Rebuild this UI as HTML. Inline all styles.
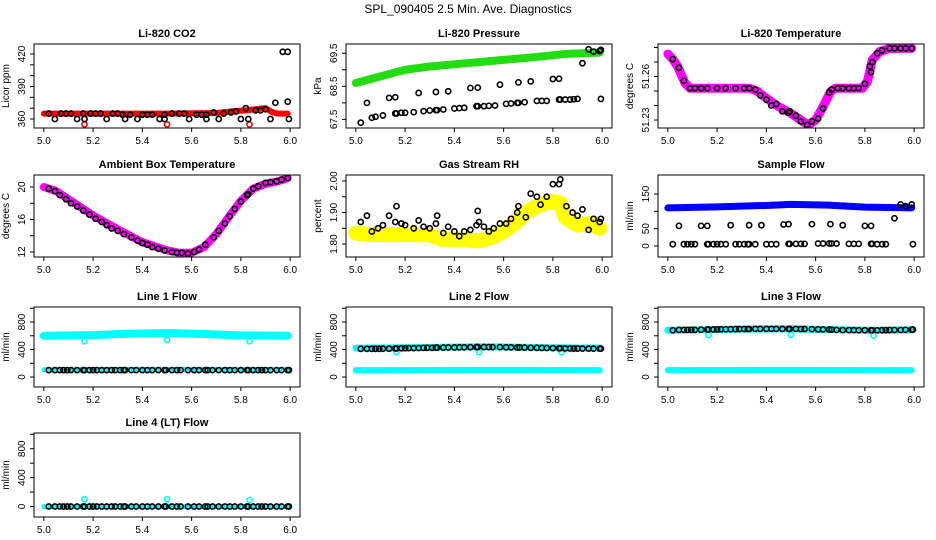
<!DOCTYPE html>
<html><head><meta charset="utf-8"><style>
html,body{margin:0;padding:0;background:#fff;}
svg{display:block;font-family:"Liberation Sans",sans-serif;}
</style></head><body>
<svg id="chart" width="936" height="540" viewBox="0 0 936 540">
<text x="468" y="13" text-anchor="middle" font-size="12">SPL_090405  2.5 Min. Ave. Diagnostics</text>
</svg>
<script>
// ---- data ----
const xTicks=[5.0,5.2,5.4,5.6,5.8,6.0];
const gridX=[5.02,5.045,5.065,5.08,5.095,5.11,5.135,5.16,5.165,5.185,5.2,5.215,5.235,5.255,5.275,5.29,5.31,5.325,5.33,5.355,5.375,5.4,5.42,5.44,5.465,5.49,5.495,5.52,5.54,5.555,5.585,5.61,5.63,5.655,5.665,5.685,5.71,5.735,5.755,5.775,5.8,5.825,5.83,5.85,5.87,5.885,5.9,5.92,5.945,5.965,5.99,5.995];

const co2BandX=[5.0,5.1,5.3,5.5,5.7,5.76,5.82,5.9,5.93,5.95,5.99];
const co2BandY=[365,365,365,365,365.5,367,368,370,366,365,365];
const co2OutX=[5.165,5.5,5.835];
const co2OutY=[355,355,355];
const co2BlkX=[5.02,5.07,5.09,5.11,5.16,5.19,5.21,5.23,5.28,5.3,5.32,5.35,5.4,5.42,5.44,5.49,5.52,5.55,5.57,5.62,5.64,5.66,5.69,5.73,5.76,5.78,5.82,5.86,5.88,5.9,5.94,5.99,5.97,5.99,5.045,5.135,5.165,5.255,5.33,5.38,5.47,5.49,5.59,5.66,5.71,5.8,5.83,5.92,5.995];
const co2BlkY=[365,365,365,365,365,365,365,365,365,365,364,364,364,364,364,364,365,365,365,364,364,364,366,365,366,367,370,368,368,369,375,376,422,422,360,360,360,360,360,360,360,360,360,360,360,360,360,360,360];

const presBandX=[5.0,5.1,5.2,5.3,5.45,5.6,5.75,5.85,5.99];
const presBandY=[68.6,68.8,69.0,69.1,69.2,69.3,69.4,69.48,69.52];
const presBlkX=[5.045,5.135,5.16,5.255,5.325,5.375,5.465,5.495,5.585,5.66,5.71,5.8,5.825,5.92,5.945,5.965,5.99,5.995,
 5.02,5.065,5.08,5.11,5.16,5.165,5.185,5.2,5.235,5.275,5.3,5.325,5.33,5.355,5.4,5.42,5.44,5.49,5.495,5.52,5.54,5.565,5.61,5.63,5.655,5.66,5.685,5.735,5.755,5.775,5.825,5.83,5.85,5.87,5.885,5.9,5.995];
const presBlkY=[68.0,68.15,68.17,68.3,68.33,68.35,68.45,68.46,68.55,68.62,68.65,68.72,68.73,69.2,69.62,69.55,69.57,69.6,
 67.4,67.55,67.58,67.62,67.68,67.68,67.7,67.7,67.72,67.75,67.77,67.78,67.78,67.8,67.83,67.84,67.85,67.9,67.9,67.9,67.91,67.92,67.97,67.98,68.0,68.0,68.02,68.06,68.06,68.06,68.1,68.1,68.1,68.1,68.11,68.12,68.12];

const tempBandX=[5.0,5.02,5.04,5.07,5.09,5.2,5.33,5.36,5.4,5.45,5.5,5.55,5.57,5.6,5.63,5.66,5.68,5.79,5.81,5.83,5.86,5.9,5.99];
const tempBandY=[51.2755,51.272,51.2668,51.2553,51.2519,51.2519,51.2519,51.2502,51.245,51.2392,51.2346,51.2288,51.2266,51.23,51.2392,51.2495,51.2519,51.2519,51.2564,51.2714,51.2772,51.2794,51.2794];
const tempBlkX=[5.02,5.045,5.065,5.09,5.11,5.135,5.16,5.2,5.235,5.275,5.31,5.33,5.355,5.375,5.4,5.42,5.44,5.465,5.49,5.495,5.52,5.54,5.565,5.585,5.61,5.63,5.655,5.665,5.69,5.71,5.735,5.755,5.775,5.8,5.82,5.825,5.83,5.85,5.87,5.9,5.92,5.945,5.965,5.99];
const tempBlkY=[51.272,51.266,51.257,51.2519,51.2519,51.2519,51.2519,51.2519,51.2519,51.2519,51.2519,51.2519,51.251,51.247,51.244,51.240,51.241,51.236,51.235,51.236,51.233,51.229,51.2266,51.229,51.231,51.238,51.249,51.251,51.2519,51.2519,51.2519,51.2519,51.2519,51.255,51.267,51.263,51.270,51.276,51.278,51.2794,51.2794,51.2794,51.2794,51.2794];

const ambBandX=[5.0,5.05,5.1,5.2,5.3,5.4,5.5,5.55,5.6,5.65,5.7,5.75,5.8,5.85,5.9,5.95,5.99];
const ambBandY=[20.0,19.5,18.5,16.5,14.8,13.2,12.2,11.9,11.9,12.6,14.2,16.3,18.3,19.8,20.4,20.7,21.1];
const ambBlkX=[5.02,5.045,5.065,5.09,5.11,5.135,5.16,5.185,5.21,5.235,5.255,5.275,5.3,5.325,5.355,5.38,5.4,5.42,5.44,5.465,5.49,5.52,5.54,5.56,5.585,5.61,5.63,5.655,5.69,5.71,5.735,5.755,5.775,5.8,5.825,5.83,5.85,5.87,5.9,5.92,5.945,5.965,5.99];
const ambBlkY=[19.8,19.5,19.0,18.5,18.0,17.6,17.1,16.6,16.1,15.7,15.3,14.9,14.6,14.2,13.8,13.4,13.1,12.9,12.6,12.4,12.2,12.0,11.9,11.9,11.8,12.0,12.3,12.9,13.8,14.6,15.5,16.4,17.3,18.2,19.0,19.1,19.8,20.1,20.5,20.6,20.7,20.9,21.1];

const rhBandX=[5.0,5.05,5.1,5.2,5.3,5.35,5.4,5.5,5.55,5.6,5.65,5.7,5.75,5.8,5.83,5.85,5.9,5.95,5.99];
const rhBandY=[1.835,1.83,1.83,1.83,1.83,1.815,1.815,1.81,1.82,1.84,1.87,1.905,1.925,1.935,1.93,1.885,1.86,1.865,1.85];
const rhBlkX=[5.02,5.045,5.065,5.09,5.11,5.135,5.16,5.165,5.185,5.2,5.235,5.255,5.275,5.3,5.325,5.33,5.355,5.375,5.4,5.42,5.44,5.465,5.49,5.495,5.5,5.52,5.54,5.56,5.585,5.61,5.63,5.655,5.66,5.69,5.71,5.735,5.75,5.775,5.8,5.825,5.83,5.855,5.88,5.9,5.92,5.945,5.965,5.99,5.995];
const rhBlkY=[1.87,1.89,1.84,1.85,1.86,1.89,1.87,1.92,1.865,1.86,1.85,1.875,1.855,1.85,1.865,1.89,1.835,1.855,1.84,1.825,1.84,1.845,1.86,1.905,1.87,1.855,1.84,1.85,1.865,1.865,1.88,1.9,1.92,1.885,1.96,1.95,1.925,1.95,1.99,1.99,2.005,1.92,1.9,1.89,1.91,1.845,1.88,1.87,1.88];

const sfBandX=[5.0,5.2,5.4,5.5,5.65,5.8,5.99];
const sfBandY=[110,113,117,120,118,112,110];
const sfBlkX=[5.045,5.135,5.16,5.255,5.33,5.38,5.47,5.49,5.585,5.66,5.71,5.8,5.825,5.92,5.945,5.965,5.99,
 5.02,5.065,5.08,5.095,5.11,5.16,5.165,5.185,5.2,5.215,5.235,5.275,5.29,5.31,5.325,5.33,5.355,5.4,5.42,5.44,5.49,5.495,5.52,5.54,5.555,5.61,5.63,5.655,5.665,5.685,5.735,5.755,5.775,5.825,5.83,5.85,5.87,5.885,5.995];
const sfBlkY=[58,58,58,60,60,60,62,63,63,63,60,58,58,80,120,115,120,
 5,5,5,5,5,5,5,5,5,5,5,5,5,5,5,5,5,5,5,5,6,6,6,6,6,7,7,7,7,7,6,6,6,6,6,5,5,5,5];

const l1HiX=[5.0,5.2,5.35,5.5,5.65,5.8,5.99];
const l1HiY=[600,610,630,640,625,605,600];
const l1LoX=[5.0,5.5,5.99];
const l1LoY=[105,110,105];
const l1BlkY=[100,100,100,100,100,100,100,100,100,100,100,100,100,100,100,100,100,100,100,100,100,100,100,100,100,100,100,100,100,100,100,100,100,100,100,100,100,100,100,100,100,100,100,100,100,100,100,100,100,100,100,100];
const l1OutX=[5.165,5.5,5.835];
const l1OutY=[520,540,520];

const l2HiX=[5.0,5.2,5.4,5.5,5.65,5.8,5.99];
const l2HiY=[420,425,435,440,435,425,420];
const l2LoX=[5.0,5.5,5.99];
const l2LoY=[100,102,100];
const l2BlkY=[410,410,410,410,410,412,412,415,415,418,418,420,420,422,424,425,425,427,427,428,430,430,432,432,434,436,436,436,435,435,434,432,432,430,430,428,425,425,423,422,420,418,418,416,415,414,414,414,413,413,413,413];
const l2OutY=[360,360,360];

const l3HiX=[5.0,5.2,5.4,5.5,5.65,5.8,5.99];
const l3HiY=[680,690,700,700,690,680,685];
const l3LoX=[5.0,5.5,5.99];
const l3LoY=[100,102,100];
const l3BlkY=[680,685,685,685,685,685,688,690,690,692,692,694,695,696,697,698,698,698,698,700,700,700,700,700,700,700,700,700,698,698,696,694,692,690,688,685,683,682,682,681,681,680,680,680,681,682,683,684,684,686,688,690];
const l3OutY=[610,615,600];

const l4BandX=[5.0,5.5,5.99];
const l4BandY=[0,0,0];
const l4BlkY=[0,0,0,0,0,0,0,0,0,0,0,0,0,0,0,0,0,0,0,0,0,0,0,0,0,0,0,0,0,0,0,0,0,0,0,0,0,0,0,0,0,0,0,0,0,0,0,0,0,0,0,0];
const l4OutY=[100,100,90];

// ---- layout ----
const NS='http://www.w3.org/2000/svg';
const svg=document.getElementById('chart');
function mk(tag,attrs,parent){const e=document.createElementNS(NS,tag);for(const k in attrs)e.setAttribute(k,attrs[k]);(parent||svg).appendChild(e);return e;}
const XD=[4.96,6.04];

function panel(o){
  const g=mk('g',{});
  
  
  const L=o.x,T=o.y,W=266,H=o.h;
  const sx=v=>L+(v-XD[0])/(XD[1]-XD[0])*W;
  const sy=v=>T+H-(v-o.yd[0])/(o.yd[1]-o.yd[0])*H;
  const t=mk('text',{x:L+W/2,y:T-7,'text-anchor':'middle','font-size':'11','font-weight':'bold'},g);
  t.textContent=o.title;
  
  
  const xa=mk('g',{},g);
  
  
  mk('line',{x1:sx(xTicks[0]),x2:sx(xTicks[xTicks.length-1]),y1:T+H,y2:T+H,stroke:'#000'},xa);
  xTicks.forEach(v=>{
    mk('line',{x1:sx(v),x2:sx(v),y1:T+H,y2:T+H+4,stroke:'#000'},xa);
    const tl=mk('text',{x:sx(v),y:T+H+16,'text-anchor':'middle','font-size':'10'},xa);
    tl.textContent=v.toFixed(1);
    
    
  });
  const ya=mk('g',{},g);
  
  
  mk('line',{x1:L,x2:L,y1:sy(o.yt[0]),y2:sy(o.yt[o.yt.length-1]),stroke:'#000'},ya);
  o.yt.forEach((v,i)=>{
    mk('line',{x1:L-4,x2:L,y1:sy(v),y2:sy(v),stroke:'#000'},ya);
    if(o.yl[i]){
      const tl=mk('text',{x:L-9,y:sy(v),'text-anchor':'middle','font-size':'10',transform:`rotate(-90 ${L-9} ${sy(v)})`},ya);
      tl.textContent=o.yl[i];
      
      
    }
  });
  const yt=mk('text',{x:L-25,y:T+H/2,'text-anchor':'middle','font-size':'10',transform:`rotate(-90 ${L-25} ${T+H/2})`},g);
  yt.textContent=o.ytitle;
  
  
  const clip='clip-'+o.name;
  const cp=mk('clipPath',{id:clip},g);mk('rect',{x:L,y:T,width:W,height:H},cp);
  const sg=mk('g',{'clip-path':`url(#${clip})`},g);
  (o.bands||[]).forEach(b=>{
    const pts=b.x.map((v,i)=>sx(v)+','+sy(b.y[i])).join(' ');
    const pl=mk('polyline',{points:pts,fill:'none',stroke:b.c,'stroke-width':b.w,'stroke-linejoin':'round','stroke-linecap':'round'},sg);
    
    
  });
  (o.pts||[]).forEach(p=>{
    const pg=mk('g',{},sg);
    
    
    p.x.forEach((v,i)=>{
      const c=mk('circle',{cx:sx(v),cy:sy(p.y[i]),r:2.6,fill:'none',stroke:p.c,'stroke-width':1.6},pg);
      
      
    });
  });
  mk('rect',{x:L,y:T,width:W,height:H,fill:'none',stroke:'#000'},g);
}
const C=[34,346,658];
const flowT=[0,200,400,600,800,1000],flowL=['0','','400','','800',''];
panel({name:'co2',title:'Li-820 CO2',x:C[0],y:44,h:84,yd:[351.7,429.2],yt:[360,370,380,390,400,410,420],yl:['360','','','390','','','420'],ytitle:'Licor ppm',
  bands:[{x:co2BandX,y:co2BandY,c:'#ff0000',w:6,n:'co2-band'}],
  pts:[{x:co2OutX,y:co2OutY,c:'#ff0000',n:'co2-red-outliers'},{x:co2BlkX,y:co2BlkY,c:'#000',n:'co2-black-points'}]});
panel({name:'pressure',title:'Li-820 Pressure',x:C[1],y:44,h:84,yd:[67.24,69.78],yt:[67.5,68,68.5,69,69.5],yl:['67.5','','68.5','','69.5'],ytitle:'kPa',
  bands:[{x:presBandX,y:presBandY,c:'#22dd11',w:8,n:'pressure-band'}],
  pts:[{x:presBlkX,y:presBlkY,c:'#000',n:'pressure-black-points'}]});
panel({name:'licor-temp',title:'Li-820 Temperature',x:C[2],y:44,h:84,yd:[51.2245,51.2824],yt:[51.23,51.24,51.25,51.26,51.27,51.28],yl:['51.23','','','51.26','',''],ytitle:'degrees C',
  bands:[{x:tempBandX,y:tempBandY,c:'#ff00ff',w:9,n:'licor-temp-band'}],
  pts:[{x:tempBlkX,y:tempBlkY,c:'#000',n:'licor-temp-black-points'}]});
panel({name:'ambient',title:'Ambient Box Temperature',x:C[0],y:175,h:82,yd:[11.38,21.48],yt:[12,14,16,18,20],yl:['12','','16','','20'],ytitle:'degrees C',
  bands:[{x:ambBandX,y:ambBandY,c:'#ff00ff',w:8,n:'ambient-band'}],
  pts:[{x:ambBlkX,y:ambBlkY,c:'#000',n:'ambient-black-points'}]});
panel({name:'rh',title:'Gas Stream RH',x:C[1],y:175,h:82,yd:[1.759,2.019],yt:[1.80,1.85,1.90,1.95,2.00],yl:['1.80','','1.90','','2.00'],ytitle:'percent',
  bands:[{x:rhBandX,y:rhBandY,c:'#ffff00',w:15,n:'rh-band'}],
  pts:[{x:rhBlkX,y:rhBlkY,c:'#000',n:'rh-black-points'}]});
panel({name:'sample-flow',title:'Sample Flow',x:C[2],y:175,h:82,yd:[-32,205],yt:[0,50,100,150],yl:['0','50','','150'],ytitle:'ml/min',
  bands:[{x:sfBandX,y:sfBandY,c:'#0000ff',w:7,n:'sample-flow-band'}],
  pts:[{x:sfBlkX,y:sfBlkY,c:'#000',n:'sample-flow-black-points'}]});
const FD=[-145,1018];
panel({name:'line1',title:'Line 1 Flow',x:C[0],y:307,h:80,yd:FD,yt:flowT,yl:flowL,ytitle:'ml/min',
  bands:[{x:l1HiX,y:l1HiY,c:'#00ffff',w:8,n:'line1-high-band'},{x:l1LoX,y:l1LoY,c:'#00ffff',w:5,n:'line1-low-band'}],
  pts:[{x:l1OutX,y:l1OutY,c:'#00ffff',n:'line1-outliers'},{x:gridX,y:l1BlkY,c:'#000',n:'line1-black-points'}]});
panel({name:'line2',title:'Line 2 Flow',x:C[1],y:307,h:80,yd:FD,yt:flowT,yl:flowL,ytitle:'ml/min',
  bands:[{x:l2HiX,y:l2HiY,c:'#00ffff',w:7,n:'line2-high-band'},{x:l2LoX,y:l2LoY,c:'#00ffff',w:6,n:'line2-low-band'}],
  pts:[{x:l1OutX,y:l2OutY,c:'#00ffff',n:'line2-outliers'},{x:gridX,y:l2BlkY,c:'#000',n:'line2-black-points'}]});
panel({name:'line3',title:'Line 3 Flow',x:C[2],y:307,h:80,yd:FD,yt:flowT,yl:flowL,ytitle:'ml/min',
  bands:[{x:l3HiX,y:l3HiY,c:'#00ffff',w:7,n:'line3-high-band'},{x:l3LoX,y:l3LoY,c:'#00ffff',w:6,n:'line3-low-band'}],
  pts:[{x:l1OutX,y:l3OutY,c:'#00ffff',n:'line3-outliers'},{x:gridX,y:l3BlkY,c:'#000',n:'line3-black-points'}]});
panel({name:'line4',title:'Line 4 (LT) Flow',x:C[0],y:433,h:84,yd:FD,yt:flowT,yl:flowL,ytitle:'ml/min',
  bands:[{x:l4BandX,y:l4BandY,c:'#00ffff',w:5,n:'line4-band'}],
  pts:[{x:l1OutX,y:l4OutY,c:'#00ffff',n:'line4-outliers'},{x:gridX,y:l4BlkY,c:'#000',n:'line4-black-points'}]});
</script>
</body></html>
